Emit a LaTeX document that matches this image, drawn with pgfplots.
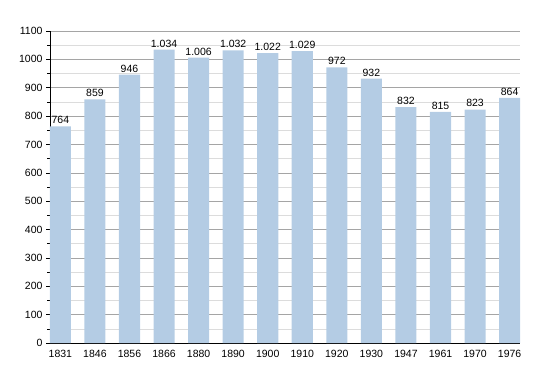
\documentclass[border=0pt]{standalone}
\usepackage{pgfplots}
\pgfplotsset{compat=1.18}
\usepackage{fontspec}
\setmainfont{Liberation Sans}
\definecolor{barblue}{RGB}{180,204,228}
\definecolor{majgrid}{RGB}{165,165,165}
\definecolor{mingrid}{RGB}{220,220,220}
\begin{document}
\begin{tikzpicture}[x=1pt,y=1pt]
\path[use as bounding box] (0,0) rectangle (550,373);
\begin{axis}[
  at={(50pt,30pt)}, anchor=south west,
  scale only axis, width=470pt, height=312pt,
  ymin=0, ymax=1100,
  xmin=-0.3, xmax=13.3,
  ytick={0,100,...,1100},
  minor ytick={50,150,...,1050},
  xtick=data,
  xticklabels={1831,1846,1856,1866,1880,1890,1900,1910,1920,1930,1947,1961,1970,1976},
  yticklabel style={/pgf/number format/1000 sep={}},
  axis x line*=bottom, axis y line*=left,
  axis line style={black, line width=0.8pt, -},
  ymajorgrids, yminorgrids,
  major grid style={majgrid, line width=0.6pt},
  minor grid style={mingrid, line width=0.6pt},
  xtick style={draw=none},
  ytick style={black, line width=0.6pt},
  tick align=outside,
  major tick length=4pt, minor tick length=3pt,
  tick label style={font=\fontsize{10.5}{12}\selectfont},
  /pgf/number format/assume math mode=true,
  ybar, bar width=0.61,
  nodes near coords,
  every node near coord/.append style={font=\fontsize{10.5}{12}\selectfont, /pgf/number format/1000 sep={.}, /pgf/number format/assume math mode=true, yshift=-1pt},
  clip=false,
]
\addplot[fill=barblue, draw=none] coordinates {
(0,764) (1,859) (2,946) (3,1034) (4,1006) (5,1032) (6,1022) (7,1029) (8,972) (9,932) (10,832) (11,815) (12,823) (13,864)
};
\end{axis}
\end{tikzpicture}
\end{document}
